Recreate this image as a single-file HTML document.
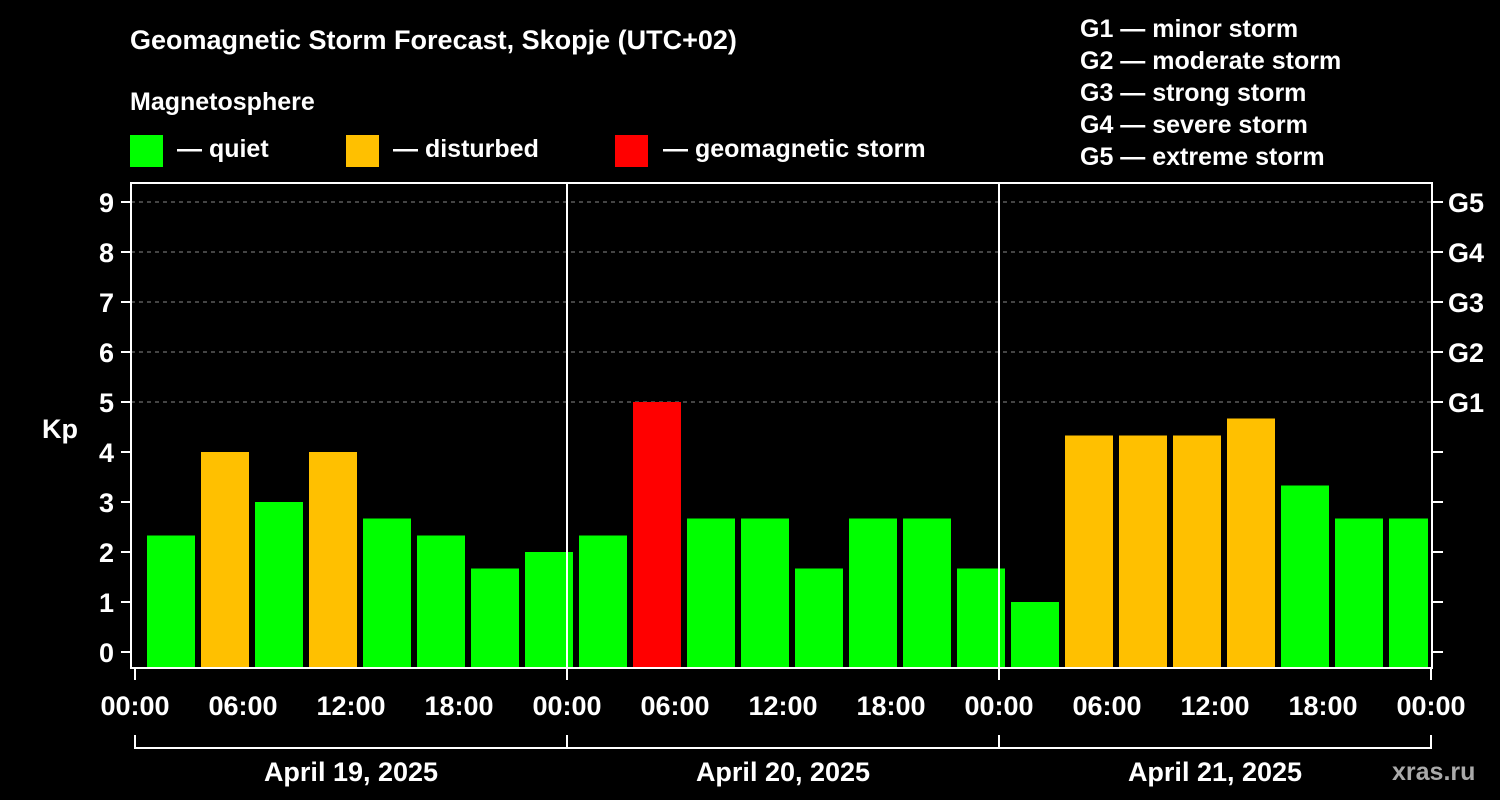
<!DOCTYPE html>
<html><head><meta charset="utf-8"><style>
html,body{margin:0;padding:0;background:#000;}
svg{display:block;font-family:"Liberation Sans",Arial,sans-serif;font-weight:bold;}
</style></head><body>
<svg id="chart" width="1500" height="800" viewBox="0 0 1500 800" xmlns="http://www.w3.org/2000/svg">
<rect width="1500" height="800" fill="#000"/>
<text x="130" y="49" fill="#fff" font-size="27">Geomagnetic Storm Forecast, Skopje (UTC+02)</text>
<text x="130" y="110" fill="#fff" font-size="25">Magnetosphere</text>
<g><rect x="130" y="135" width="33" height="32" fill="#00ff00"/><text x="177" y="157" fill="#fff" font-size="25">— quiet</text></g>
<g><rect x="346" y="135" width="33" height="32" fill="#ffc000"/><text x="393" y="157" fill="#fff" font-size="25">— disturbed</text></g>
<g><rect x="615" y="135" width="33" height="32" fill="#ff0000"/><text x="663" y="157" fill="#fff" font-size="25">— geomagnetic storm</text></g>
<g fill="#fff" font-size="25">
<text x="1080" y="37">G1 — minor storm</text>
<text x="1080" y="69">G2 — moderate storm</text>
<text x="1080" y="101">G3 — strong storm</text>
<text x="1080" y="133">G4 — severe storm</text>
<text x="1080" y="165">G5 — extreme storm</text>
</g>
<text x="42" y="438" fill="#fff" font-size="27">Kp</text>
<g id="grid"></g>
<g id="bars"></g>
<g id="axes"></g>
<text x="1392" y="780" fill="#aaa" font-size="25">xras.ru</text>
</svg>
<script>
const kpValues=[2.33,4,3,4,2.67,2.33,1.67,2,2.33,5,2.67,2.67,1.67,2.67,2.67,1.67,1,4.33,4.33,4.33,4.67,3.33,2.67,2.67,2.67];
const kpColors=["g","o","g","o","g","g","g","g","g","r","g","g","g","g","g","g","g","o","o","o","o","g","g","g","g"];
const hourLabels=["00:00","06:00","12:00","18:00"];
const dayLabels=["April 19, 2025","April 20, 2025","April 21, 2025"];
const gLabels=["G1","G2","G3","G4","G5"];
const yTicks=[0,1,2,3,4,5,6,7,8,9];

const NS="http://www.w3.org/2000/svg";
const X0=135,PXH=18,Y0=652,PXK=50,TOP=183,BOT=668,L=131,R=1432;
const xs=h=>X0+h*PXH, ys=v=>Y0-v*PXK;
const colMap={g:"#00ff00",o:"#ffc000",r:"#ff0000"};
function mk(tag,attrs,parent,txt){const e=document.createElementNS(NS,tag);for(const k in attrs)e.setAttribute(k,attrs[k]);if(txt!=null)e.textContent=txt;parent.appendChild(e);return e;}
const grid=document.getElementById('grid'),bars=document.getElementById('bars'),axes=document.getElementById('axes');
// gridlines for G levels
gLabels.forEach((g,i)=>{const y=ys(5+i);
 const ln=mk('line',{x1:L,x2:R,y1:y,y2:y,stroke:'#888','stroke-width':1,'stroke-dasharray':'4,4'},grid);
 
 
 const t=mk('text',{x:1448,y:y+10,fill:'#fff','font-size':27},axes,g);
 
 
});
// bars
kpValues.forEach((v,i)=>{const c=1.5+3*i+0.5;let x1=xs(c)-24,x2=xs(c)+24;x1=Math.max(x1,136);x2=Math.min(x2,1428);
 const b=mk('rect',{x:x1,y:ys(v),width:x2-x1,height:BOT-ys(v),fill:colMap[kpColors[i]]},bars);
 
 
});
// day separators
[1,2].forEach(d=>{const x=xs(24*d);const l=mk('line',{x1:x,x2:x,y1:TOP,y2:BOT,stroke:'#fff','stroke-width':2},axes);
 
 });
// frame
const fr=mk('rect',{x:L,y:TOP,width:R-L,height:BOT-TOP,fill:'none',stroke:'#fff','stroke-width':2},axes);


// y ticks
yTicks.forEach(v=>{const y=ys(v);
 mk('line',{x1:121,x2:L,y1:y,y2:y,stroke:'#fff','stroke-width':2},axes);
 mk('line',{x1:R,x2:1443,y1:y,y2:y,stroke:'#fff','stroke-width':2},axes);
 const t=mk('text',{x:114,y:y+10,fill:'#fff','font-size':27,'text-anchor':'end'},axes,String(v));
 
 
});
// x labels
for(let d=0;d<=3;d++){for(let k=0;k<4;k++){if(d==3&&k>0)break;const h=24*d+6*k;const x=xs(h);
 const t=mk('text',{x:x,y:715,fill:'#fff','font-size':27,'text-anchor':'middle'},axes,hourLabels[k]);
 
 
 if(k==0){mk('line',{x1:x,x2:x,y1:BOT,y2:680,stroke:'#fff','stroke-width':2},axes);
  mk('line',{x1:x,x2:x,y1:735,y2:749,stroke:'#fff','stroke-width':2},axes);}
}}
mk('line',{x1:xs(0),x2:xs(72),y1:748,y2:748,stroke:'#fff','stroke-width':2},axes);
dayLabels.forEach((dl,i)=>{const t=mk('text',{x:xs(24*i+12),y:781,fill:'#fff','font-size':27,'text-anchor':'middle'},axes,dl);
 
 });
</script>
</body></html>
